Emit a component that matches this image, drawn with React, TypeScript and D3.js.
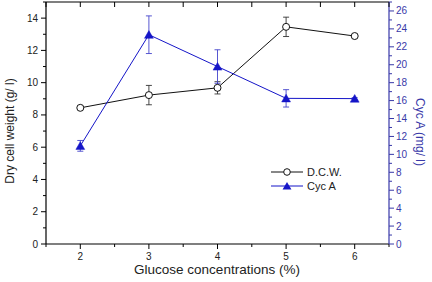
import React from "react";
import * as d3 from "d3";

const glucose = [2, 3, 4, 5, 6];
const dcw = [8.44, 9.23, 9.68, 13.46, 12.89];
const dcwErr = [0.1, 0.6, 0.38, 0.6, 0.1];
const cyc = [10.95, 23.35, 19.8, 16.25, 16.22];
const cycErr = [0.6, 2.1, 1.87, 0.97, 0.1];
const leftTicks = [0, 2, 4, 6, 8, 10, 12, 14];
const rightTicks = [0, 2, 4, 6, 8, 10, 12, 14, 16, 18, 20, 22, 24, 26];
const xTicks = [2, 3, 4, 5, 6];
const legendLabels = ["D.C.W.", "Cyc A"];

const W = 432, H = 282;
const L = 46, R = 389, T = 2, B = 244;
const FONT = "Liberation Sans, Arial, sans-serif";
const BLUE = "#1515c8";
const AXBLUE = "#3838a8";

export default function App() {
  const x = d3.scaleLinear().domain([1.5, 6.5]).range([L, R]);
  const yl = d3.scaleLinear().domain([0, 15]).range([B, T]);
  const yr = d3.scaleLinear().domain([0, 27]).range([B, T]);
  const lineL = d3.line<number>().x((_, i) => x(glucose[i])).y((d) => yl(d));
  const lineR = d3.line<number>().x((_, i) => x(glucose[i])).y((d) => yr(d));
  const tri = d3.symbol().type(d3.symbolTriangle).size(34);
  const xMinor = d3.range(1.5, 6.51, 0.5);
  const lMinor = d3.range(0, 15.01, 1);
  const rMinor = d3.range(0, 27.01, 1);

  return (
    <svg width={W} height={H} style={{ position: "absolute", left: 0, top: 0, background: "#fff" }} fontFamily={FONT}>
      <rect width={W} height={H} fill="#fff" />
      {/* frame */}
      <line x1={L} x2={R} y1={T} y2={T} stroke="#000" strokeWidth={1.2} />
      <line x1={L} x2={R} y1={B} y2={B} stroke="#000" strokeWidth={1.2} />
      <line x1={L} x2={L} y1={T} y2={B} stroke="#000" strokeWidth={1.2} />
      <line x1={R} x2={R} y1={T} y2={B} stroke={AXBLUE} strokeWidth={1.2} />
      {/* top ticks (inward) */}
      {xMinor.map((v) => (
        <line key={"t" + v} x1={x(v)} x2={x(v)} y1={T} y2={T + 5} stroke="#000" />
      ))}
      {/* bottom ticks */}
      {xMinor.map((v) => {
        const major = Number.isInteger(v);
        return <line key={"b" + v} x1={x(v)} x2={x(v)} y1={B} y2={B + (major ? 5 : 3)} stroke="#000" />;
      })}
      {xTicks.map((v) => (
        <text key={"xl" + v} x={x(v)} y={B + 16} fontSize={10} textAnchor="middle" fill="#222">{v}</text>
      ))}
      {/* left ticks */}
      {lMinor.map((v) => {
        const major = v % 2 === 0;
        return <line key={"l" + v} x1={L} x2={L - (major ? 5 : 3)} y1={yl(v)} y2={yl(v)} stroke="#000" />;
      })}
      {leftTicks.map((v) => (
        <text key={"ll" + v} x={L - 8} y={yl(v) + 3.5} fontSize={10} textAnchor="end" fill="#222">{v}</text>
      ))}
      {/* right ticks */}
      {rMinor.map((v) => {
        const major = v % 2 === 0;
        return <line key={"r" + v} x1={R} x2={R + (major ? 5 : 3)} y1={yr(v)} y2={yr(v)} stroke={AXBLUE} />;
      })}
      {rightTicks.map((v) => (
        <text key={"rl" + v} x={R + 7} y={yr(v) + 3.5} fontSize={10} textAnchor="start" fill={AXBLUE}>{v}</text>
      ))}
      {/* axis titles */}
      <text x={217} y={274} fontSize={13.5} textAnchor="middle" fill="#222">Glucose concentrations (%)</text>
      <text transform={`translate(14,${(T + B) / 2 + 8}) rotate(-90)`} fontSize={12} textAnchor="middle" fill="#222">Dry cell weight (g/ l)</text>
      <text transform={`translate(416,${(T + B) / 2 + 9}) rotate(90)`} fontSize={12} textAnchor="middle" fill={AXBLUE}>Cyc A (mg/ l)</text>
      {/* DCW error bars */}
      {dcw.map((v, i) => (
        <g key={"de" + i} stroke="#333" strokeWidth={0.9}>
          <line x1={x(glucose[i])} x2={x(glucose[i])} y1={yl(v - dcwErr[i])} y2={yl(v + dcwErr[i])} />
          <line x1={x(glucose[i]) - 3} x2={x(glucose[i]) + 3} y1={yl(v - dcwErr[i])} y2={yl(v - dcwErr[i])} />
          <line x1={x(glucose[i]) - 3} x2={x(glucose[i]) + 3} y1={yl(v + dcwErr[i])} y2={yl(v + dcwErr[i])} />
        </g>
      ))}
      {/* Cyc error bars */}
      {cyc.map((v, i) => (
        <g key={"ce" + i} stroke="#4444cc" strokeWidth={0.9}>
          <line x1={x(glucose[i])} x2={x(glucose[i])} y1={yr(v - cycErr[i])} y2={yr(v + cycErr[i])} />
          <line x1={x(glucose[i]) - 3} x2={x(glucose[i]) + 3} y1={yr(v - cycErr[i])} y2={yr(v - cycErr[i])} />
          <line x1={x(glucose[i]) - 3} x2={x(glucose[i]) + 3} y1={yr(v + cycErr[i])} y2={yr(v + cycErr[i])} />
        </g>
      ))}
      <path d={lineL(dcw) || ""} fill="none" stroke="#111" strokeWidth={1} />
      <path d={lineR(cyc) || ""} fill="none" stroke={BLUE} strokeWidth={1} />
      {dcw.map((v, i) => (
        <circle key={"dc" + i} cx={x(glucose[i])} cy={yl(v)} r={3.5} fill="#fff" stroke="#111" strokeWidth={1} />
      ))}
      {cyc.map((v, i) => (
        <path key={"cm" + i} d={tri() || ""} transform={`translate(${x(glucose[i])},${yr(v) + 1})`} fill={BLUE} stroke={BLUE} strokeWidth={0.5} />
      ))}
      {/* legend */}
      <line x1={271} x2={303} y1={172} y2={172} stroke="#111" />
      <circle cx={287} cy={172} r={3.3} fill="#fff" stroke="#111" />
      <text x={307} y={176} fontSize={11} fill="#222">{legendLabels[0]}</text>
      <line x1={271} x2={303} y1={186} y2={186} stroke={BLUE} />
      <path d={tri() || ""} transform="translate(287,187)" fill={BLUE} />
      <text x={307} y={190} fontSize={11} fill="#222">{legendLabels[1]}</text>
    </svg>
  );
}
